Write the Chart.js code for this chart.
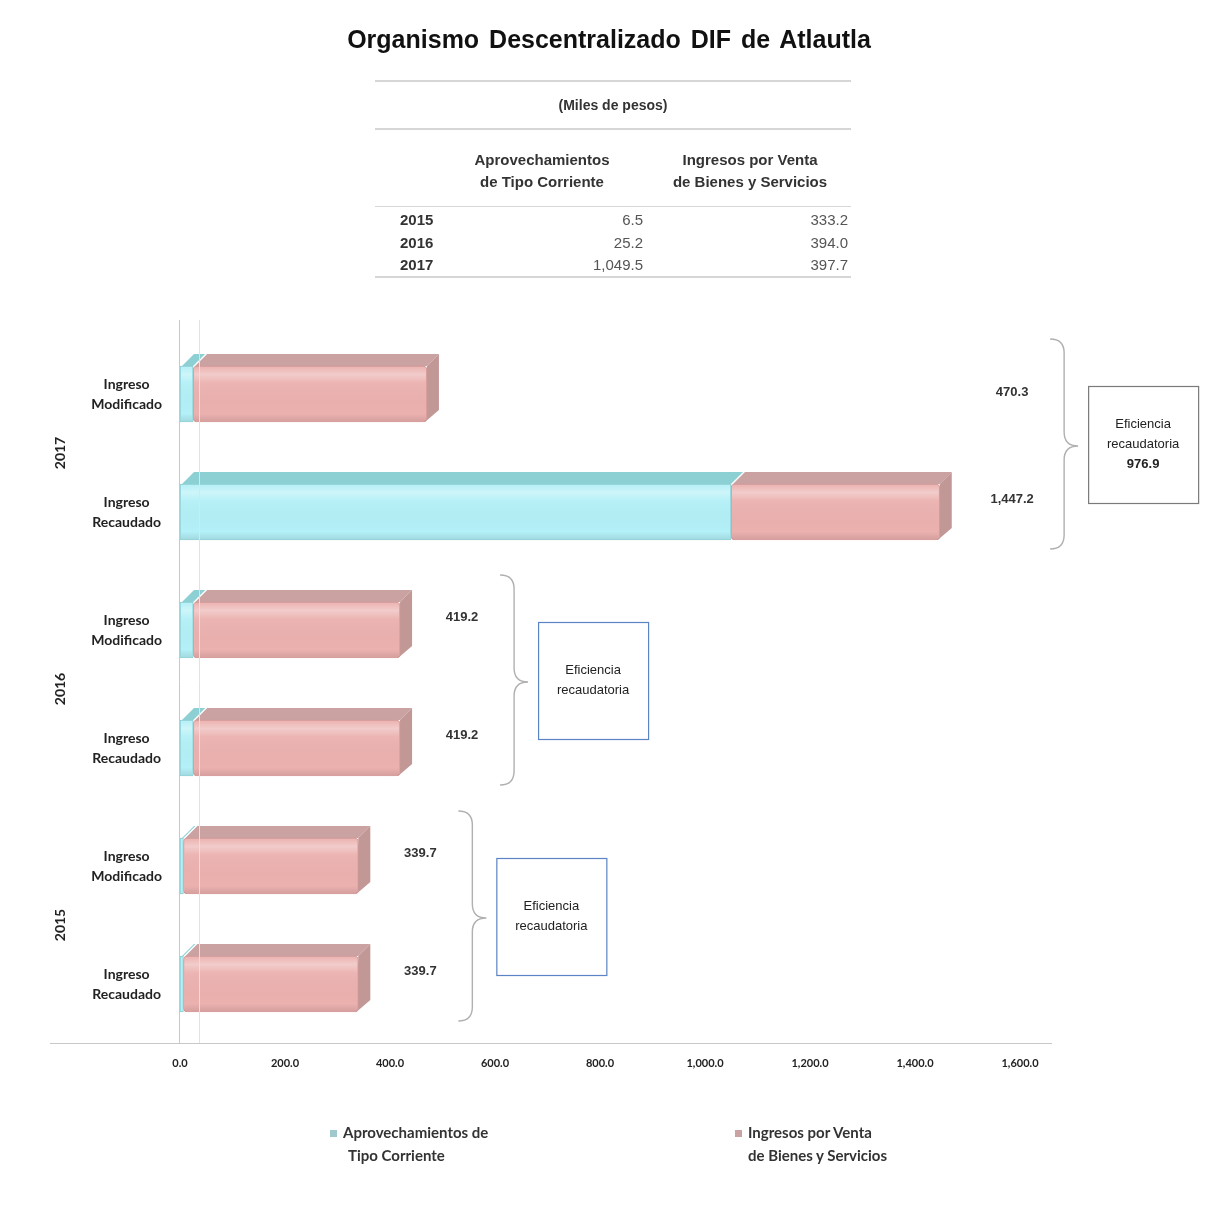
<!DOCTYPE html>
<html>
<head>
<meta charset="utf-8">
<script src="https://cdn.jsdelivr.net/npm/chart.js@4.4.1/dist/chart.umd.min.js"></script>
<style>
  body { margin: 0; background: #fff; }
  #wrap { position: relative; width: 1206px; height: 1207px; overflow: hidden; }
  #G1 { position: absolute; left: 0; top: 0; }
  .t { position: absolute; font-family: "Liberation Sans", Arial, sans-serif; color: #222; white-space: nowrap; }
  .hl { position: absolute; left: 375px; width: 476px; height: 2px; background: #d6d6d6; }
  .lg { position: absolute; font-family: Lato, sans-serif; font-weight: bold; font-size: 15px; color: #333; line-height: 23px; }
  .lg i { display: inline-block; width: 7px; height: 7px; margin-right: 6px; vertical-align: 1px; }
</style>
</head>
<body>
<div id="wrap">
  <canvas id="G1" width="1206" height="1207"></canvas>

  <div class="t" style="left:0;width:1218px;text-align:center;top:25px;font-size:25px;font-weight:bold;word-spacing:3px;color:#111">Organismo Descentralizado DIF de Atlautla</div>
  <div class="hl" style="top:80px"></div>
  <div class="t" style="left:0;width:1226px;text-align:center;top:97px;font-size:14px;font-weight:bold;color:#333">(Miles de pesos)</div>
  <div class="hl" style="top:128px"></div>
  <div class="t" style="left:442px;width:200px;text-align:center;top:149px;font-size:15px;font-weight:bold;color:#333;line-height:22px">Aprovechamientos<br>de Tipo Corriente</div>
  <div class="t" style="left:650px;width:200px;text-align:center;top:149px;font-size:15px;font-weight:bold;color:#333;line-height:22px">Ingresos por Venta<br>de Bienes y Servicios</div>
  <div class="hl" style="top:206px;height:1px"></div>
  <div id="tabla"></div>
  <div class="hl" style="top:276px"></div>

  <div class="lg" style="left:330px;top:1121px"><i style="background:#9fc9cc"></i>Aprovechamientos de<br><span style="padding-left:18px">Tipo Corriente</span></div>
  <div class="lg" style="left:735px;top:1121px"><i style="background:#c9a3a3"></i>Ingresos por Venta<br><span style="padding-left:13px">de Bienes y Servicios</span></div>
</div>

<script>
// tabla (miles de pesos)
var anios = ["2015", "2016", "2017"];
var aprov_anual = [6.5, 25.2, 1049.5];
var venta_anual = [333.2, 394.0, 397.7];

// barras: Ingreso Modificado / Ingreso Recaudado por año
var filas = [["Ingreso", "Modificado"], ["Ingreso", "Recaudado"], ["Ingreso", "Modificado"], ["Ingreso", "Recaudado"], ["Ingreso", "Modificado"], ["Ingreso", "Recaudado"]];
var anio_fila = ["2017", "2017", "2016", "2016", "2015", "2015"];
var aprovechamientos = [25.0, 1049.5, 25.2, 25.2, 6.5, 6.5];
var ventas = [445.3, 397.7, 394.0, 394.0, 333.2, 333.2];
var totales = ["470.3", "1,447.2", "419.2", "419.2", "339.7", "339.7"];
var eficiencia = ["976.9", "", ""];
var ticks_x = [0, 200, 400, 600, 800, 1000, 1200, 1400, 1600];

function fmt(v) {
  return v.toLocaleString("en-US", {minimumFractionDigits: 1, maximumFractionDigits: 1});
}

// filas de la tabla
var tabla = document.getElementById("tabla");
for (var i = 0; i < anios.length; i++) {
  var y = 211 + i * 22.5;
  tabla.innerHTML +=
    '<div class="t" style="left:400px;top:' + y + 'px;font-size:15px;font-weight:bold;color:#333">' + anios[i] + '</div>' +
    '<div class="t" style="left:543px;width:100px;text-align:right;top:' + y + 'px;font-size:15px;color:#555">' + fmt(aprov_anual[i]) + '</div>' +
    '<div class="t" style="left:748px;width:100px;text-align:right;top:' + y + 'px;font-size:15px;color:#555">' + fmt(venta_anual[i]) + '</div>';
}

var PROF = 12; // profundidad del efecto 3D
var colores = [
  {frente: "#b3f0f7", arriba: "#8dd0d3", lado: "#86c4c8"},
  {frente: "#ebb1af", arriba: "#c9a2a1", lado: "#c29896"}
];

var efecto3D = {
  id: "efecto3D",
  beforeDatasetsDraw: function (chart) {
    var c = chart.ctx;
    chart.data.datasets.forEach(function (ds, di) {
      chart.getDatasetMeta(di).data.forEach(function (b) {
        var top = b.y - b.height / 2, bot = b.y + b.height / 2;
        var x0 = Math.min(b.base, b.x), x1 = Math.max(b.base, b.x);
        if (x1 - x0 < 1) return;
        c.save();
        c.fillStyle = colores[di].arriba;
        c.beginPath();
        c.moveTo(x0 + 2, top);
        c.lineTo(x0 + 2 + PROF, top - PROF);
        c.lineTo(x1 + PROF, top - PROF);
        c.lineTo(x1, top);
        c.closePath();
        c.fill();
        if (di === chart.data.datasets.length - 1) {
          c.fillStyle = colores[di].lado;
          c.beginPath();
          c.moveTo(x1, top);
          c.lineTo(x1 + PROF, top - PROF);
          c.lineTo(x1 + PROF, bot - PROF);
          c.lineTo(x1 - 2, bot);
          c.closePath();
          c.fill();
        }
        c.restore();
      });
    });
  },
  afterDatasetsDraw: function (chart) {
    var c = chart.ctx;
    chart.data.datasets.forEach(function (ds, di) {
      chart.getDatasetMeta(di).data.forEach(function (b) {
        var top = b.y - b.height / 2, bot = b.y + b.height / 2;
        var x0 = Math.min(b.base, b.x), x1 = Math.max(b.base, b.x);
        if (x1 - x0 < 4) return;
        var g = c.createLinearGradient(0, top, 0, bot);
        g.addColorStop(0, "rgba(255,255,255,0)");
        g.addColorStop(0.15, "rgba(255,255,255,0.35)");
        g.addColorStop(0.3, "rgba(255,255,255,0.05)");
        g.addColorStop(0.85, "rgba(0,0,0,0)");
        g.addColorStop(1, "rgba(0,0,0,0.10)");
        c.save();
        c.fillStyle = g;
        c.fillRect(x0 + 1, top + 1, x1 - x0 - 2, bot - top - 2);
        c.restore();
      });
    });
  }
};

function llave(c, x, y1, y2, ym, w) {
  var r = 14, xm = x + w / 2;
  c.beginPath();
  c.moveTo(x, y1);
  c.quadraticCurveTo(xm, y1, xm, y1 + r);
  c.lineTo(xm, ym - r);
  c.quadraticCurveTo(xm, ym, x + w, ym);
  c.quadraticCurveTo(xm, ym, xm, ym + r);
  c.lineTo(xm, y2 - r);
  c.quadraticCurveTo(xm, y2, x, y2);
  c.stroke();
}

var anotaciones = {
  id: "anotaciones",
  afterDraw: function (chart) {
    var c = chart.ctx, xs = chart.scales.x, ys = chart.scales.y, area = chart.chartArea;
    c.save();
    // ejes
    c.strokeStyle = "#c8c8c8";
    c.lineWidth = 1;
    c.beginPath();
    c.moveTo(50, area.bottom + 0.5); c.lineTo(1052, area.bottom + 0.5);
    c.moveTo(area.left - 0.5, area.top - 15); c.lineTo(area.left - 0.5, area.bottom);
    c.stroke();
    c.strokeStyle = "#e2e2e2";
    c.beginPath();
    c.moveTo(area.left + 19.5, area.top - 15); c.lineTo(area.left + 19.5, area.bottom);
    c.stroke();

    // años
    c.fillStyle = "#222";
    c.font = "bold 14px Lato";
    c.textAlign = "center";
    c.textBaseline = "middle";
    for (var g = 0; g < 3; g++) {
      var ym = (ys.getPixelForValue(g * 2) + ys.getPixelForValue(g * 2 + 1)) / 2;
      c.save();
      c.translate(60, ym);
      c.rotate(-Math.PI / 2);
      c.fillText(anio_fila[g * 2], 0, 0);
      c.restore();
    }

    // totales
    c.font = "bold 13px 'Liberation Sans'";
    c.fillStyle = "#333";
    var fin = chart.getDatasetMeta(1).data;
    for (var i = 0; i < totales.length; i++) {
      var yy = ys.getPixelForValue(i) - 13;
      var xx = anio_fila[i] === "2017" ? xs.getPixelForValue(1585) : fin[i].x + PROF + 50;
      if (i === 0) yy += 11;
      c.fillText(totales[i], xx, yy);
    }

    // llaves y cuadros de eficiencia
    for (g = 0; g < 3; g++) {
      var c1 = ys.getPixelForValue(g * 2), c2 = ys.getPixelForValue(g * 2 + 1);
      var xl;
      if (g === 0) xl = xs.getPixelForValue(1585) + 38;
      else xl = fin[g * 2].x + PROF + 88;
      c.strokeStyle = "#b0b0b0";
      c.lineWidth = 1.4;
      llave(c, xl, c1 - 55, c2 + 37, (c1 + c2) / 2 - 7, 28);
      var bx = xl + 38, by = c1 - 8, bw = 110, bh = 117;
      c.strokeStyle = g === 0 ? "#7a7a7a" : "#5b84c4";
      c.lineWidth = 1.2;
      c.strokeRect(bx + 0.5, by + 0.5, bw, bh);
      c.fillStyle = "#222";
      c.font = "13px 'Liberation Sans'";
      var lineas = ["Eficiencia", "recaudatoria"];
      if (eficiencia[g]) lineas.push(eficiencia[g]);
      var y0 = by + bh / 2 - (lineas.length - 1) * 10;
      for (var k = 0; k < lineas.length; k++) {
        c.font = (k === 2 ? "bold " : "") + "13px 'Liberation Sans'";
        c.fillText(lineas[k], bx + bw / 2, y0 + k * 20);
      }
    }
    c.restore();
  }
};

var grafico = new Chart(document.getElementById("G1").getContext("2d"), {
  type: "bar",
  data: {
    labels: filas,
    datasets: [
      {label: "Aprovechamientos de Tipo Corriente", data: aprovechamientos, backgroundColor: colores[0].frente,
       borderColor: "#8ccdd2", borderWidth: 1, borderRadius: 4, borderSkipped: false, barThickness: 56},
      {label: "Ingresos por Venta de Bienes y Servicios", data: ventas, backgroundColor: colores[1].frente,
       borderColor: "#d39a98", borderWidth: 1, borderRadius: 4, borderSkipped: false, barThickness: 56}
    ]
  },
  options: {
    indexAxis: "y",
    responsive: false,
    animation: false,
    layout: {padding: {top: 335, bottom: 124, left: 0, right: 186}},
    plugins: {legend: {display: false}, tooltip: {enabled: false}},
    scales: {
      x: {
        stacked: true, min: 0, max: 1600,
        afterBuildTicks: function (s) { s.ticks = ticks_x.map(function (v) { return {value: v}; }); },
        afterFit: function (s) { s.height = 40; },
        ticks: {callback: function (v) { return fmt(v); }, font: {family: "Lato", weight: "bold", size: 11}, color: "#222", padding: 14, maxRotation: 0},
        grid: {display: false, drawTicks: false},
        border: {display: false}
      },
      y: {
        stacked: true,
        afterFit: function (s) { s.width = 180; },
        ticks: {crossAlign: "center", padding: 18, font: {family: "Lato", weight: "bold", size: 14, lineHeight: 1.43}, color: "#222"},
        grid: {display: false, drawTicks: false},
        border: {display: false}
      }
    }
  },
  plugins: [efecto3D, anotaciones]
});
</script>
</body>
</html>
